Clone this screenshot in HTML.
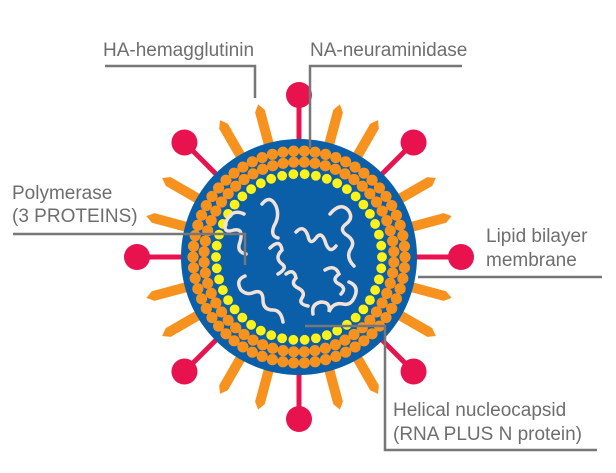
<!DOCTYPE html>
<html><head><meta charset="utf-8"><style>
html,body{margin:0;padding:0;background:#fff;width:616px;height:473px;overflow:hidden}
svg{display:block}
text{font-family:"Liberation Sans",sans-serif;fill:#6e6e6e;font-size:19px}
</style></head><body>
<svg width="616" height="473" viewBox="0 0 616 473" xmlns="http://www.w3.org/2000/svg">
<g id="spikes"></g>
<circle cx="299" cy="257" r="118" fill="#0a5fa8"/>
<g id="dots"></g>
<g fill="none" stroke="#f2e2da" stroke-width="3.5" stroke-linecap="round">
<path d="M244 214 q-12 -6 -18 8 q-4 12 8 8 q10 -2 6 12 q-4 10 6 12"/>
<path d="M262 204 q8 -10 14 2 q4 10 -2 20 q-4 10 4 12"/>
<path d="M296 232 q8 -8 12 4 q2 10 8 2 q6 -8 10 6 q4 10 10 2"/>
<path d="M330 214 q10 -12 18 -4 q6 8 -2 14 q-8 6 2 12 q8 6 2 14 q-4 8 4 16"/>
<path d="M270 248 q10 -10 12 2 q-8 8 0 14 q6 4 -4 10"/>
<path d="M286 274 q8 -6 10 4 q-6 6 2 10 q8 4 4 10 q-4 6 6 8"/>
<path d="M325 270 q10 -6 14 4 q-8 6 0 10 q8 4 2 10"/>
<path d="M245 276 q-10 4 -4 14 q6 6 14 2 q8 -2 8 8 q0 10 10 10 q8 0 10 12"/>
<path d="M313 314 q-2 -10 8 -12 q10 0 8 10 q4 -10 14 -8 q8 2 12 -8 q4 -10 -6 -14"/>
</g>
<g fill="none" stroke="#777" stroke-width="2.5">
<polyline points="105,66 255,66 255,98"/>
<polyline points="462,66 310,66 310,148"/>
<polyline points="13,234 245,234 245,265"/>
<polyline points="418,277 602,277"/>
<polyline points="305,326 385,326 385,450 597,450"/>
</g>
<text x="103" y="56">HA-hemagglutinin</text>
<text x="310" y="56">NA-neuraminidase</text>
<text x="12" y="199">Polymerase</text>
<text x="12" y="222">(3 PROTEINS)</text>
<text x="486" y="242">Lipid bilayer</text>
<text x="486" y="266">membrane</text>
<text x="393" y="416">Helical nucleocapsid</text>
<text x="393" y="440">(RNA PLUS N protein)</text>
</svg>
<script>
var NS="http://www.w3.org/2000/svg",cx=299,cy=257;
function el(t,a,p){var e=document.createElementNS(NS,t);for(var k in a)e.setAttribute(k,a[k]);p.appendChild(e);return e;}
var sp=document.getElementById("spikes"),dt=document.getElementById("dots");
for(var d=0;d<360;d+=15){
 var r=d*Math.PI/180,s=Math.sin(r),c=-Math.cos(r);
 if(d%45==0){
  el("line",{x1:cx+s*110,y1:cy+c*110,x2:cx+s*160,y2:cy+c*160,stroke:"#e8124f","stroke-width":5},sp);
  el("circle",{cx:cx+s*162,cy:cy+c*162,r:13,fill:"#e8124f"},sp);
 }else{
  var px=c,py=-s,w=5,b=110,t=151,tp=158;
  var pts=[[cx+s*b+px*w,cy+c*b+py*w],[cx+s*t+px*w,cy+c*t+py*w],[cx+s*tp,cy+c*tp],[cx+s*t-px*w,cy+c*t-py*w],[cx+s*b-px*w,cy+c*b-py*w]];
  el("polygon",{points:pts.map(function(p){return p.join(",")}).join(" "),fill:"#f7921e"},sp);
 }
}
function ring(R,n,rad,col,off){for(var i=0;i<n;i++){var a=(i+off)/n*2*Math.PI;el("circle",{cx:cx+R*Math.cos(a),cy:cy+R*Math.sin(a),r:rad,fill:col},dt);}}
ring(106,62,5.6,"#f7921e",0);
ring(95,56,5.6,"#f7921e",0.5);
ring(83,46,4.9,"#fff21a",0);
</script>
</body></html>
